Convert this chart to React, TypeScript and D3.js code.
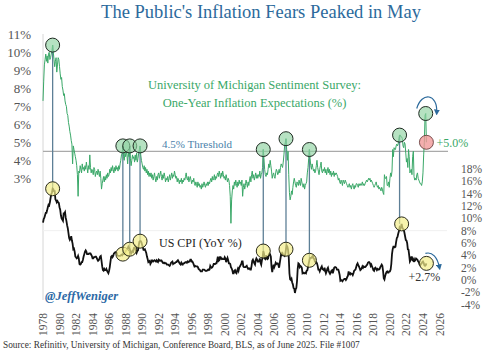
import React from "react";
import * as d3 from "d3";

// monthly values, first row = 1979
const FIRST_YEAR = 1979;

// University of Michigan 1-yr inflation expectations (%)
const michigan = [
  [7.3, 8.4, 9.3, 9.6, 9.9, 9.5, 9.8, 9.4, 9.9, 10.0, 9.6, 9.7],
  [9.9, 10.1, 10.4, 10.0, 9.6, 9.2, 9.5, 9.7, 8.9, 9.3, 9.7, 9.6],
  [9.2, 8.8, 8.5, 8.6, 8.1, 7.9, 7.6, 7.7, 7.3, 7.1, 7.0, 6.6],
  [6.5, 6.1, 5.9, 5.6, 5.4, 5.1, 4.9, 3.8, 4.8, 4.6, 4.4, 4.2],
  [4.0, 3.7, 3.2, 2.0, 3.4, 3.3, 3.7, 3.5, 3.3, 3.8, 3.5, 3.6],
  [3.4, 3.7, 3.5, 3.9, 3.6, 3.3, 3.7, 3.5, 4.3, 3.6, 3.3, 3.5],
  [3.4, 3.2, 3.6, 3.5, 3.1, 3.3, 3.4, 3.2, 3.5, 3.3, 3.1, 3.4],
  [3.0, 2.4, 2.7, 2.9, 3.1, 2.8, 3.1, 2.9, 3.2, 3.0, 3.3, 3.1],
  [3.2, 3.5, 3.3, 3.6, 3.4, 3.7, 3.5, 3.3, 3.6, 3.4, 3.7, 3.5],
  [3.6, 3.4, 3.7, 3.5, 3.8, 4.0, 4.3, 4.4, 4.8, 4.2, 4.0, 4.4],
  [4.2, 4.5, 4.3, 3.8, 4.4, 4.2, 4.8, 4.1, 3.7, 4.0, 4.3, 4.1],
  [4.2, 3.9, 4.3, 4.0, 4.4, 3.9, 4.1, 4.4, 4.6, 4.8, 4.3, 4.0],
  [3.8, 3.6, 3.5, 3.7, 3.4, 3.6, 3.3, 3.5, 3.2, 3.4, 3.1, 3.3],
  [3.1, 3.3, 3.0, 3.2, 2.9, 3.1, 3.3, 3.0, 2.8, 3.1, 2.9, 3.2],
  [3.3, 3.0, 3.2, 3.4, 3.1, 2.9, 3.2, 3.0, 3.3, 3.1, 2.8, 3.0],
  [2.9, 3.1, 2.8, 3.0, 3.2, 2.9, 3.1, 3.3, 3.0, 3.2, 3.1, 3.4],
  [3.2, 3.0, 3.1, 2.8, 3.0, 2.9, 2.7, 2.9, 2.8, 3.0, 2.7, 2.9],
  [2.8, 3.0, 2.9, 3.1, 3.3, 3.0, 2.9, 3.1, 2.8, 3.0, 3.1, 2.9],
  [2.7, 2.9, 2.8, 3.0, 2.7, 2.6, 2.8, 2.7, 2.5, 2.8, 2.6, 2.7],
  [2.5, 2.6, 2.4, 2.7, 2.5, 2.6, 2.8, 2.6, 2.5, 2.7, 2.6, 2.8],
  [2.6, 2.8, 2.7, 2.9, 3.0, 2.8, 3.1, 2.9, 3.0, 3.2, 2.9, 3.1],
  [3.0, 3.2, 3.3, 3.1, 3.4, 3.2, 3.0, 3.3, 3.1, 3.4, 3.2, 3.0],
  [3.1, 2.9, 3.2, 3.0, 2.8, 3.0, 2.9, 2.6, 2.0, 0.5, 1.8, 2.3],
  [2.6, 2.4, 2.8, 2.6, 2.9, 2.7, 2.5, 2.8, 2.6, 2.9, 2.7, 2.8],
  [2.6, 2.9, 2.0, 2.5, 2.7, 2.4, 2.6, 2.9, 2.7, 2.5, 2.8, 2.6],
  [2.9, 3.1, 2.8, 3.2, 3.4, 3.0, 3.2, 2.9, 3.1, 3.3, 3.0, 3.2],
  [3.0, 3.2, 3.1, 3.4, 3.0, 3.2, 3.3, 3.6, 4.6, 4.1, 3.5, 3.2],
  [3.1, 3.3, 3.2, 3.5, 3.8, 3.6, 4.0, 3.7, 3.4, 3.0, 3.2, 3.3],
  [3.1, 3.0, 3.3, 3.5, 3.4, 3.2, 3.3, 3.5, 3.3, 3.6, 3.8, 3.7],
  [3.6, 3.9, 4.3, 4.8, 5.0, 5.2, 4.6, 4.0, 4.5, 3.2, 2.2, 1.8],
  [2.0, 2.3, 2.1, 2.5, 2.8, 3.0, 2.8, 2.6, 2.5, 2.8, 2.7, 2.6],
  [2.9, 2.7, 2.6, 3.0, 2.8, 2.6, 2.5, 2.7, 2.4, 2.6, 2.7, 2.8],
  [3.3, 3.6, 4.1, 4.6, 4.1, 3.7, 3.5, 3.8, 3.6, 3.4, 3.5, 3.3],
  [3.4, 3.7, 4.0, 3.6, 3.4, 3.2, 3.5, 3.7, 3.9, 3.4, 3.3, 3.5],
  [3.4, 3.6, 3.3, 3.5, 3.2, 3.4, 3.6, 3.3, 3.5, 3.2, 3.4, 3.1],
  [3.3, 3.2, 3.4, 3.1, 3.3, 3.2, 3.3, 3.2, 3.1, 2.9, 3.0, 2.8],
  [2.7, 2.9, 2.8, 2.6, 2.9, 2.8, 2.7, 2.9, 2.8, 2.7, 2.6, 2.5],
  [2.6, 2.7, 2.5, 2.6, 2.4, 2.6, 2.7, 2.5, 2.4, 2.6, 2.5, 2.7],
  [2.7, 2.6, 2.5, 2.7, 2.6, 2.7, 2.6, 2.7, 2.8, 2.6, 2.7, 2.6],
  [2.7, 2.8, 2.9, 2.8, 2.9, 3.0, 2.9, 3.0, 2.8, 2.9, 2.8, 2.7],
  [2.6, 2.5, 2.6, 2.7, 2.8, 2.6, 2.5, 2.6, 2.4, 2.5, 2.4, 2.3],
  [2.5, 2.4, 2.2, 2.1, 3.2, 3.0, 3.0, 3.1, 2.6, 2.6, 2.8, 2.5],
  [3.0, 3.3, 3.1, 3.4, 4.6, 4.2, 4.7, 4.6, 4.6, 4.8, 4.9, 4.8],
  [4.9, 5.2, 5.4, 5.4, 5.3, 5.3, 5.2, 4.8, 4.7, 5.0, 4.9, 4.4],
  [3.9, 4.1, 3.6, 4.6, 4.2, 3.3, 3.4, 3.5, 3.2, 4.2, 4.5, 3.1],
  [2.9, 3.0, 2.9, 3.2, 3.3, 3.0, 2.9, 2.8, 2.7, 2.7, 2.6, 2.8],
  [3.3, 4.3, 5.0, 6.5, 6.6, 5.0],
];

// US CPI, year over year (%)
const cpi = [
  [9.3, 9.9, 10.1, 10.5, 10.9, 10.9, 11.3, 11.8, 12.2, 12.1, 12.6, 13.3],
  [13.9, 14.2, 14.8, 14.7, 14.4, 14.4, 13.1, 12.9, 12.6, 12.8, 12.6, 12.5],
  [11.8, 11.4, 10.5, 10.0, 9.8, 9.6, 10.8, 10.8, 11.0, 10.1, 9.6, 8.9],
  [8.4, 7.6, 6.8, 6.5, 6.7, 7.1, 6.4, 5.9, 5.0, 5.1, 4.6, 3.8],
  [3.7, 3.5, 3.6, 3.9, 3.5, 2.6, 2.5, 2.6, 2.9, 2.9, 3.3, 3.8],
  [4.2, 4.6, 4.8, 4.6, 4.2, 4.2, 4.2, 4.3, 4.3, 4.3, 4.1, 3.9],
  [3.5, 3.5, 3.7, 3.7, 3.8, 3.8, 3.6, 3.3, 3.1, 3.2, 3.5, 3.8],
  [3.9, 3.1, 2.2, 1.6, 1.5, 1.8, 1.6, 1.6, 1.8, 1.5, 1.3, 1.1],
  [1.5, 2.1, 3.0, 3.8, 3.9, 3.7, 3.9, 4.3, 4.4, 4.5, 4.5, 4.4],
  [4.0, 3.9, 3.9, 3.9, 3.9, 4.0, 4.1, 4.0, 4.2, 4.2, 4.2, 4.4],
  [4.7, 4.8, 5.0, 5.1, 5.4, 5.2, 5.0, 4.7, 4.3, 4.5, 4.7, 4.6],
  [5.2, 5.3, 5.2, 4.7, 4.4, 4.7, 4.8, 5.6, 6.2, 6.3, 6.3, 6.1],
  [5.7, 5.3, 4.9, 4.9, 5.0, 4.7, 4.4, 3.8, 3.4, 2.9, 3.0, 3.1],
  [2.6, 2.8, 3.2, 3.2, 3.0, 3.1, 3.2, 3.1, 3.0, 3.2, 3.0, 2.9],
  [3.3, 3.2, 3.1, 3.2, 3.2, 3.0, 2.8, 2.8, 2.7, 2.8, 2.7, 2.7],
  [2.5, 2.5, 2.5, 2.4, 2.3, 2.5, 2.8, 2.9, 3.0, 2.6, 2.7, 2.7],
  [2.8, 2.9, 2.9, 3.1, 3.2, 3.0, 2.8, 2.6, 2.5, 2.8, 2.6, 2.5],
  [2.7, 2.7, 2.8, 2.9, 2.9, 2.8, 3.0, 2.9, 3.0, 3.0, 3.3, 3.3],
  [3.0, 3.0, 2.8, 2.5, 2.2, 2.3, 2.2, 2.2, 2.2, 2.1, 1.8, 1.7],
  [1.6, 1.4, 1.4, 1.4, 1.7, 1.7, 1.7, 1.6, 1.5, 1.5, 1.5, 1.6],
  [1.7, 1.6, 1.7, 2.3, 2.1, 2.0, 2.1, 2.3, 2.6, 2.6, 2.6, 2.7],
  [2.7, 3.2, 3.8, 3.1, 3.2, 3.7, 3.7, 3.4, 3.5, 3.4, 3.4, 3.4],
  [3.7, 3.5, 2.9, 3.3, 3.6, 3.2, 2.7, 2.7, 2.6, 2.1, 1.9, 1.6],
  [1.1, 1.1, 1.5, 1.6, 1.2, 1.1, 1.5, 1.8, 1.5, 2.0, 2.2, 2.4],
  [2.6, 3.0, 3.0, 2.2, 2.1, 2.1, 2.1, 2.2, 2.3, 2.0, 1.8, 1.9],
  [1.9, 1.7, 1.7, 2.3, 3.1, 3.3, 3.0, 2.7, 2.5, 3.2, 3.5, 3.3],
  [3.0, 3.0, 3.1, 3.5, 2.8, 2.5, 3.2, 3.6, 4.7, 4.3, 3.5, 3.4],
  [4.0, 3.6, 3.4, 3.5, 4.2, 4.3, 4.1, 3.8, 2.1, 1.3, 2.0, 2.5],
  [2.1, 2.4, 2.8, 2.6, 2.7, 2.7, 2.4, 2.0, 2.8, 3.5, 4.3, 4.1],
  [4.3, 4.0, 4.0, 3.9, 4.2, 5.0, 5.6, 5.4, 4.9, 3.7, 1.1, 0.1],
  [0.0, 0.2, -0.4, -0.7, -1.3, -1.4, -2.1, -1.5, -1.3, -0.2, 1.8, 2.7],
  [2.6, 2.1, 2.3, 2.2, 2.0, 1.1, 1.2, 1.1, 1.1, 1.2, 1.1, 1.5],
  [1.6, 2.1, 2.7, 3.2, 3.6, 3.6, 3.6, 3.8, 3.9, 3.5, 3.4, 3.0],
  [2.9, 2.9, 2.7, 2.3, 1.7, 1.7, 1.4, 1.7, 2.0, 2.2, 1.8, 1.7],
  [1.6, 2.0, 1.5, 1.1, 1.4, 1.8, 2.0, 1.5, 1.2, 1.0, 1.2, 1.5],
  [1.6, 1.1, 1.5, 2.0, 2.1, 2.1, 2.0, 1.7, 1.7, 1.7, 1.3, 0.8],
  [-0.1, 0.0, -0.1, -0.2, 0.0, 0.1, 0.2, 0.2, 0.0, 0.2, 0.5, 0.7],
  [1.4, 1.0, 0.9, 1.1, 1.0, 1.0, 0.8, 1.1, 1.5, 1.6, 1.7, 2.1],
  [2.5, 2.7, 2.4, 2.2, 1.9, 1.6, 1.7, 1.9, 2.2, 2.0, 2.2, 2.1],
  [2.1, 2.2, 2.4, 2.5, 2.8, 2.9, 2.9, 2.7, 2.3, 2.5, 2.2, 1.9],
  [1.6, 1.5, 1.9, 2.0, 1.8, 1.6, 1.8, 1.7, 1.7, 1.8, 2.1, 2.3],
  [2.5, 2.3, 1.5, 0.3, 0.1, 0.6, 1.0, 1.3, 1.4, 1.2, 1.2, 1.4],
  [1.4, 1.7, 2.6, 4.2, 5.0, 5.4, 5.4, 5.3, 5.4, 6.2, 6.8, 7.0],
  [7.5, 7.9, 8.5, 8.3, 8.6, 9.1, 8.5, 8.3, 8.2, 7.7, 7.1, 6.5],
  [6.4, 6.0, 5.0, 4.9, 4.0, 3.0, 3.2, 3.7, 3.7, 3.2, 3.1, 3.4],
  [3.1, 3.2, 3.5, 3.4, 3.3, 3.0, 2.9, 2.5, 2.4, 2.6, 2.7, 2.9],
  [3.0, 2.8, 2.4, 2.3, 2.4, 2.7],
];

// [year, month] of the circled peaks: expectations circle, CPI circle
const peaks = [
  { mich: [1980, 3], cpi: [1980, 3] },
  { mich: [1988, 9], cpi: [1988, 9] },
  { mich: [1989, 7], cpi: [1989, 7] },
  { mich: [1990, 10], cpi: [1990, 10] },
  { mich: [2005, 9], cpi: [2005, 9] },
  { mich: [2008, 6], cpi: [2008, 6] },
  { mich: [2011, 4], cpi: [2011, 4] },
  { mich: [2022, 3], cpi: [2022, 6] },
];
const lastHigh = [2025, 5]; // green circle
const lastMich = [2025, 6]; // red circle, +5.0%
const lastCpi = [2025, 6]; // +2.7%

const yearLabels = d3.range(1978, 2027, 2);
const leftTicks = [3, 4, 5, 6, 7, 8, 9, 10, 11];
const rightTicks = [-4, -2, 0, 2, 4, 6, 8, 10, 12, 14, 16, 18];
const THRESHOLD = 4.5;

const FONT = "'Liberation Serif', 'DejaVu Serif', serif";
const GREEN = "#3aa868";
const BLUE = "#2c6a9c";

const michFlat = michigan.flat();
const cpiFlat = cpi.flat();
const toT = (i: number) => FIRST_YEAR + i / 12;
const idx = (ym: number[]) => (ym[0] - FIRST_YEAR) * 12 + ym[1] - 1;

export default function App() {
  const x = d3.scaleLinear().domain([1979, 2027]).range([43, 439.5]);
  const yL = d3.scaleLinear().domain([3, 11]).range([178.3, 34.3]);
  const yR = d3.scaleLinear().domain([-4, 18]).range([304.7, 169]);

  const michLine = d3
    .line<number>()
    .x((d, i) => x(toT(i)))
    .y((d) => yL(d));
  const cpiLine = d3
    .line<number>()
    .x((d, i) => x(toT(i)))
    .y((d) => yR(d));

  const gx = (ym: number[]) => x(toT(idx(ym)));
  const gy = (ym: number[]) => yL(michFlat[idx(ym)]);
  const cy = (ym: number[]) => yR(cpiFlat[idx(ym)]);

  const hx = gx(lastHigh);
  const hy = gy(lastHigh);
  const cx2 = gx(lastCpi);
  const cy2 = cy(lastCpi);

  return (
    <>
      <style>{"body{margin:0}"}</style>
      <svg width={500} height={362} style={{ display: "block", background: "#fff" }}>
        <defs>
          <marker id="arr" viewBox="0 0 10 10" refX="5" refY="5" markerWidth="5" markerHeight="5" orient="auto">
            <path d="M0,0 L10,5 L0,10 z" fill={BLUE} />
          </marker>
        </defs>

        <text x={261} y={17.5} textAnchor="middle" fontFamily={FONT} fontSize={18.5} fill={BLUE}>
          The Public's Inflation Fears Peaked in May
        </text>

        {/* axis frame */}
        <line x1={43} x2={43} y1={34} y2={300} stroke="#d6d6d6" />
        <line x1={43} x2={447} y1={yR(8)} y2={yR(8)} stroke="#f0f0f0" />
        <line x1={43} x2={448} y1={yL(THRESHOLD)} y2={yL(THRESHOLD)} stroke="#aaaaaa" strokeWidth={1.2} />

        {leftTicks.map((t) => (
          <text key={t} x={31} y={yL(t)} dy="0.35em" textAnchor="end" fontFamily={FONT} fontSize={13} fill="#555">
            {t}%
          </text>
        ))}
        {rightTicks.map((t) => (
          <text key={t} x={461} y={yR(t)} dy="0.35em" fontFamily={FONT} fontSize={11.5} fill="#555">
            {t}%
          </text>
        ))}
        {yearLabels.map((yr) => (
          <text
            key={yr}
            transform={`translate(${x(yr + 1)},313) rotate(-90)`}
            dy="0.35em"
            textAnchor="end"
            fontFamily={FONT}
            fontSize={11.5}
            fill="#555"
          >
            {yr}
          </text>
        ))}

        {/* connecting lines */}
        {peaks.map((p, i) => (
          <line key={i} x1={gx(p.mich)} x2={gx(p.mich)} y1={gy(p.mich)} y2={cy(p.cpi)} stroke="#5d7f96" strokeWidth={1.3} />
        ))}

        <path d={michLine(michFlat) || ""} fill="none" stroke={GREEN} strokeWidth={1} />
        <path d={cpiLine(cpiFlat) || ""} fill="none" stroke="#111" strokeWidth={1.8} />

        {peaks.map((p, i) => (
          <g key={i}>
            <circle cx={gx(p.mich)} cy={gy(p.mich)} r={7} fill="#8fd3a2" fillOpacity={0.65} stroke="#1f2a22" strokeWidth={1} />
            <circle cx={gx(p.cpi)} cy={cy(p.cpi)} r={7} fill="#f3ee8a" fillOpacity={0.7} stroke="#2a2a1a" strokeWidth={1} />
          </g>
        ))}
        <circle cx={hx} cy={hy} r={7} fill="#8fd3a2" fillOpacity={0.65} stroke="#1f2a22" strokeWidth={1} />
        <circle cx={gx(lastMich)} cy={gy(lastMich)} r={7} fill="#f19a9a" fillOpacity={0.8} stroke="#5a3030" strokeWidth={0.8} />
        <circle cx={cx2} cy={cy2} r={7} fill="#f3ee8a" fillOpacity={0.7} stroke="#2a2a1a" strokeWidth={1} />

        {/* arrows */}
        <path
          d={`M${hx - 9},${hy - 5} C${hx - 4},${hy - 22} ${hx + 12},${hy - 20} ${hx + 11},${hy - 1}`}
          fill="none"
          stroke={BLUE}
          strokeWidth={1.2}
          markerEnd="url(#arr)"
        />
        <path
          d={`M${cx2 - 1},${cy2 - 10} C${cx2 + 6},${cy2 - 12} ${cx2 + 11},${cy2 - 6} ${cx2 + 13},${cy2 + 4}`}
          fill="none"
          stroke={BLUE}
          strokeWidth={1.2}
          markerEnd="url(#arr)"
        />

        <text x={gx(lastMich) + 10} y={gy(lastMich)} dy="0.35em" fontFamily={FONT} fontSize={12} fill={GREEN}>
          +5.0%
        </text>
        <text x={cx2 - 18} y={cy2 + 18} fontFamily={FONT} fontSize={12} fill="#333">
          +2.7%
        </text>

        <text x={254.5} y={89} textAnchor="middle" fontFamily={FONT} fontSize={12.5} fill={GREEN}>
          University of Michigan Sentiment Survey:
        </text>
        <text x={254.5} y={106.5} textAnchor="middle" fontFamily={FONT} fontSize={12.5} fill={GREEN}>
          One-Year Inflation Expectations (%)
        </text>
        <text x={162} y={yL(THRESHOLD) - 3.5} fontFamily={FONT} fontSize={11} fill="#4a7faa">
          4.5% Threshold
        </text>
        <text x={159} y={246.5} fontFamily={FONT} fontSize={12} fill="#222">
          US CPI (YoY %)
        </text>
        <text x={45} y={300} fontFamily={FONT} fontSize={12.5} fontWeight="bold" fontStyle="italic" fill="#2d6aa6">
          @JeffWeniger
        </text>
        <text x={3} y={348} fontFamily={FONT} fontSize={9.3} fill="#333">
          Source: Refinitiv, University of Michigan, Conference Board, BLS, as of June 2025. File #1007
        </text>
      </svg>
    </>
  );
}
